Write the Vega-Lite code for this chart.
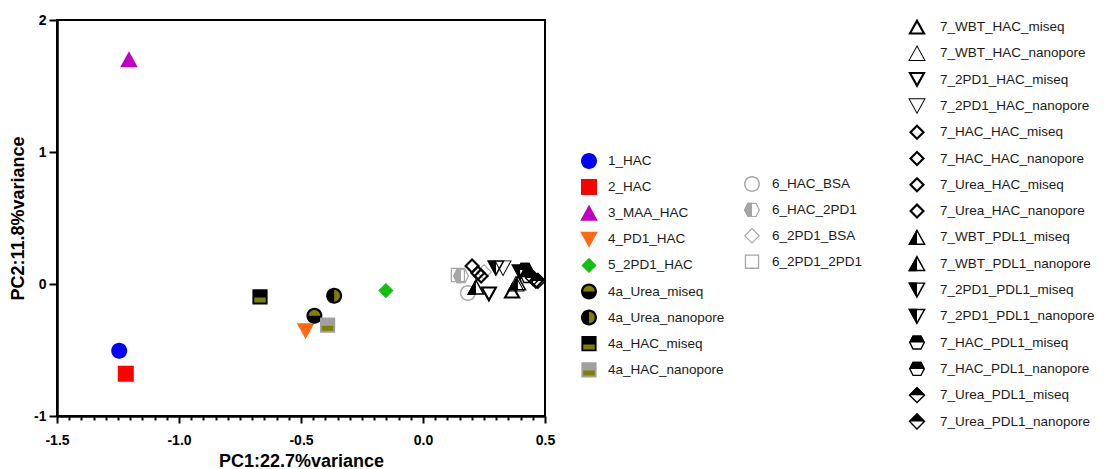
{
  "$schema": "https://vega.github.io/schema/vega-lite/v6.json",
  "autosize": {"type": "none"},
  "padding": {"left": 57, "top": 20, "right": 559, "bottom": 53},
  "width": 488,
  "height": 396,
  "background": "white",
  "data": {"values": [
    {"cat": "1_HAC", "grp": "G1", "x": -1.245, "y": -0.505},
    {"cat": "2_HAC", "grp": "G1", "x": -1.218, "y": -0.68},
    {"cat": "3_MAA_HAC", "grp": "G1", "x": -1.205, "y": 1.70},
    {"cat": "4_PD1_HAC", "grp": "G1", "x": -0.481, "y": -0.355},
    {"cat": "5_2PD1_HAC", "grp": "G1", "x": -0.152, "y": -0.05},
    {"cat": "4a_Urea_miseq", "grp": "G1", "x": -0.445, "y": -0.24},
    {"cat": "4a_Urea_nanopore", "grp": "G1", "x": -0.364, "y": -0.089},
    {"cat": "4a_HAC_miseq", "grp": "G1", "x": -0.668, "y": -0.097},
    {"cat": "4a_HAC_nanopore", "grp": "G1", "x": -0.391, "y": -0.311},
    {"cat": "6_HAC_BSA", "grp": "G2", "x": 0.184, "y": -0.068},
    {"cat": "6_HAC_2PD1", "grp": "G2", "x": 0.156, "y": 0.061},
    {"cat": "6_2PD1_BSA", "grp": "G2", "x": 0.25, "y": 0.091},
    {"cat": "6_2PD1_2PD1", "grp": "G2", "x": 0.143, "y": 0.068},
    {"cat": "7_WBT_HAC_miseq", "grp": "G3", "x": 0.365, "y": -0.053},
    {"cat": "7_WBT_HAC_nanopore", "grp": "G3", "x": 0.381, "y": 0.0},
    {"cat": "7_2PD1_HAC_miseq", "grp": "G3", "x": 0.27, "y": -0.076},
    {"cat": "7_2PD1_HAC_nanopore", "grp": "G3", "x": 0.328, "y": 0.121},
    {"cat": "7_HAC_HAC_miseq", "grp": "G3", "x": 0.201, "y": 0.136},
    {"cat": "7_HAC_HAC_nanopore", "grp": "G3", "x": 0.225, "y": 0.083},
    {"cat": "7_Urea_HAC_miseq", "grp": "G3", "x": 0.238, "y": 0.06},
    {"cat": "7_Urea_HAC_nanopore", "grp": "G3", "x": 0.463, "y": 0.02},
    {"cat": "7_WBT_PDL1_miseq", "grp": "G3", "x": 0.217, "y": -0.023},
    {"cat": "7_WBT_PDL1_nanopore", "grp": "G3", "x": 0.389, "y": 0.008},
    {"cat": "7_2PD1_PDL1_miseq", "grp": "G3", "x": 0.299, "y": 0.121},
    {"cat": "7_2PD1_PDL1_nanopore", "grp": "G3", "x": 0.398, "y": 0.091},
    {"cat": "7_HAC_PDL1_miseq", "grp": "G3", "x": 0.418, "y": 0.106},
    {"cat": "7_HAC_PDL1_nanopore", "grp": "G3", "x": 0.43, "y": 0.061},
    {"cat": "7_Urea_PDL1_miseq", "grp": "G3", "x": 0.451, "y": 0.045},
    {"cat": "7_Urea_PDL1_nanopore", "grp": "G3", "x": 0.471, "y": 0.023}
  ]},
  "layer": [
    {
      "transform": [{"filter": "datum.grp === 'G1'"}],
      "mark": {"type": "point", "filled": true, "opacity": 1, "strokeWidth": 0, "size": 256},
      "encoding": {
        "x": {"field": "x", "type": "quantitative", "scale": {"domain": [-1.5, 0.5], "nice": false, "zero": false},
          "axis": {"values": [-1.5, -1.45, -1.4, -1.35, -1.3, -1.25, -1.2, -1.15, -1.1, -1.05, -1, -0.95, -0.9, -0.85, -0.8, -0.75, -0.7, -0.65, -0.6, -0.55, -0.5, -0.45, -0.4, -0.35, -0.3, -0.25, -0.2, -0.15, -0.1, -0.05, 0, 0.05, 0.1, 0.15, 0.2, 0.25, 0.3, 0.35, 0.4, 0.45, 0.5], "labelExpr": "abs(datum.value*2 - round(datum.value*2)) < 0.001 ? replace(format(datum.value, '.1f'), '\u2212', '-') : ''", "title": "PC1:22.7%variance", "tickSize": {"condition": {"test": "abs(datum.value*2 - round(datum.value*2)) < 0.001", "value": 7}, "value": 4}, "labelPadding": 10, "titlePadding": 5}},
        "y": {"field": "y", "type": "quantitative", "scale": {"domain": [-1, 2], "nice": false, "zero": false},
          "axis": {"values": [-1, 0, 1, 2], "format": "d", "labelExpr": "replace(datum.label, '\u2212', '-')", "title": "PC2:11.8%variance", "tickSize": 8, "labelPadding": 3, "titlePadding": 6}},
        "shape": {"field": "cat", "type": "nominal",
          "scale": {"domain": ["1_HAC", "2_HAC", "3_MAA_HAC", "4_PD1_HAC", "5_2PD1_HAC", "4a_Urea_miseq", "4a_Urea_nanopore", "4a_HAC_miseq", "4a_HAC_nanopore"],
            "range": [
              "M-1,0A1,1,0,1,1,1,0A1,1,0,1,1,-1,0ZM-1.1,-1.1ZM1.1,1.1Z",
              "M-1,-1H1V1H-1ZM-1.1,-1.1ZM1.1,1.1Z",
              "M0,-1.05L1.1,0.95H-1.1ZM-1.1,-1.1ZM1.1,1.1Z",
              "M-1.1,-0.95H1.1L0,1.05ZM-1.1,-1.1ZM1.1,1.1Z",
              "M0,-0.95L0.95,0L0,0.95L-0.95,0ZM-1.1,-1.1ZM1.1,1.1Z",
              "M-1,0A1,1,0,1,1,1,0A1,1,0,1,1,-1,0ZM-1.1,-1.1ZM1.1,1.1Z",
              "M-1,0A1,1,0,1,1,1,0A1,1,0,1,1,-1,0ZM-1.1,-1.1ZM1.1,1.1Z",
              "M-0.95,-0.95H0.95V0.95H-0.95ZM-1.1,-1.1ZM1.1,1.1Z",
              "M-0.95,-0.95H0.95V0.95H-0.95ZM-1.1,-1.1ZM1.1,1.1Z"
            ]},
          "legend": {"title": null, "orient": "none", "legendX": 524, "legendY": 133, "direction": "vertical", "columns": 1, "labelOffset": 11, "rowPadding": 8.1}},
        "fill": {"field": "cat", "type": "nominal",
          "scale": {"domain": ["1_HAC", "2_HAC", "3_MAA_HAC", "4_PD1_HAC", "5_2PD1_HAC", "4a_Urea_miseq", "4a_Urea_nanopore", "4a_HAC_miseq", "4a_HAC_nanopore"],
            "range": ["#0000ff", "#ff0000", "#c000c0", "#ff6a13", "#12c012", "#000000", "#000000", "#000000", "#a0a0a0"]},
          "legend": {"title": null, "orient": "none", "legendX": 524, "legendY": 133, "direction": "vertical", "columns": 1, "labelOffset": 11, "rowPadding": 8.1}}
      }
    },
    {
      "transform": [{"filter": "datum.grp === 'G1'"}],
      "mark": {"type": "point", "filled": true, "opacity": 1, "strokeWidth": 0, "size": 256, "color": "#808000"},
      "encoding": {
        "x": {"field": "x", "type": "quantitative", "scale": {"domain": [-1.5, 0.5], "nice": false, "zero": false},
          "axis": {"values": [-1.5, -1.45, -1.4, -1.35, -1.3, -1.25, -1.2, -1.15, -1.1, -1.05, -1, -0.95, -0.9, -0.85, -0.8, -0.75, -0.7, -0.65, -0.6, -0.55, -0.5, -0.45, -0.4, -0.35, -0.3, -0.25, -0.2, -0.15, -0.1, -0.05, 0, 0.05, 0.1, 0.15, 0.2, 0.25, 0.3, 0.35, 0.4, 0.45, 0.5], "labelExpr": "abs(datum.value*2 - round(datum.value*2)) < 0.001 ? replace(format(datum.value, '.1f'), '\u2212', '-') : ''", "title": "PC1:22.7%variance", "tickSize": {"condition": {"test": "abs(datum.value*2 - round(datum.value*2)) < 0.001", "value": 7}, "value": 4}, "labelPadding": 10, "titlePadding": 5}},
        "y": {"field": "y", "type": "quantitative", "scale": {"domain": [-1, 2], "nice": false, "zero": false},
          "axis": {"values": [-1, 0, 1, 2], "format": "d", "labelExpr": "replace(datum.label, '\u2212', '-')", "title": "PC2:11.8%variance", "tickSize": 8, "labelPadding": 3, "titlePadding": 6}},
        "shape": {"field": "cat", "type": "nominal",
          "scale": {"domain": ["1_HAC", "2_HAC", "3_MAA_HAC", "4_PD1_HAC", "5_2PD1_HAC", "4a_Urea_miseq", "4a_Urea_nanopore", "4a_HAC_miseq", "4a_HAC_nanopore"],
            "range": ["M0,0ZM-1.1,-1.1ZM1.1,1.1Z", "M0,0ZM-1.1,-1.1ZM1.1,1.1Z", "M0,0ZM-1.1,-1.1ZM1.1,1.1Z", "M0,0ZM-1.1,-1.1ZM1.1,1.1Z", "M0,0ZM-1.1,-1.1ZM1.1,1.1Z",
              "M-0.72,0A0.72,0.72,0,0,1,0.72,0ZM-1.1,-1.1ZM1.1,1.1Z",
              "M0,-0.72A0.72,0.72,0,0,1,0,0.72ZM-1.1,-1.1ZM1.1,1.1Z",
              "M-0.72,0.1H0.72V0.72H-0.72ZM-1.1,-1.1ZM1.1,1.1Z",
              "M-0.72,0.1H0.72V0.72H-0.72ZM-1.1,-1.1ZM1.1,1.1Z"]},
          "legend": {"title": null, "orient": "none", "legendX": 524, "legendY": 133, "direction": "vertical", "columns": 1, "labelOffset": 11, "rowPadding": 8.1, "labelExpr": "''"}}
      }
    },
    {
      "transform": [{"filter": "datum.grp === 'G2'"}],
      "mark": {"type": "point", "filled": true, "opacity": 1, "strokeWidth": 0, "size": 256},
      "encoding": {
        "x": {"field": "x", "type": "quantitative", "scale": {"domain": [-1.5, 0.5], "nice": false, "zero": false},
          "axis": {"values": [-1.5, -1.45, -1.4, -1.35, -1.3, -1.25, -1.2, -1.15, -1.1, -1.05, -1, -0.95, -0.9, -0.85, -0.8, -0.75, -0.7, -0.65, -0.6, -0.55, -0.5, -0.45, -0.4, -0.35, -0.3, -0.25, -0.2, -0.15, -0.1, -0.05, 0, 0.05, 0.1, 0.15, 0.2, 0.25, 0.3, 0.35, 0.4, 0.45, 0.5], "labelExpr": "abs(datum.value*2 - round(datum.value*2)) < 0.001 ? replace(format(datum.value, '.1f'), '\u2212', '-') : ''", "title": "PC1:22.7%variance", "tickSize": {"condition": {"test": "abs(datum.value*2 - round(datum.value*2)) < 0.001", "value": 7}, "value": 4}, "labelPadding": 10, "titlePadding": 5}},
        "y": {"field": "y", "type": "quantitative", "scale": {"domain": [-1, 2], "nice": false, "zero": false},
          "axis": {"values": [-1, 0, 1, 2], "format": "d", "labelExpr": "replace(datum.label, '\u2212', '-')", "title": "PC2:11.8%variance", "tickSize": 8, "labelPadding": 3, "titlePadding": 6}},
        "shape": {"field": "cat", "type": "nominal",
          "scale": {"domain": ["6_HAC_BSA", "6_HAC_2PD1", "6_2PD1_BSA", "6_2PD1_2PD1"],
            "range": [
              "M-1,0A1,1,0,1,1,1,0A1,1,0,1,1,-1,0ZM-0.82,0A0.82,0.82,0,1,0,0.82,0A0.82,0.82,0,1,0,-0.82,0ZM-1.1,-1.1ZM1.1,1.1Z",
              "M-1,0L-0.55,-0.9H0.55L1,0L0.55,0.9H-0.55ZM-0.83,0L-0.46,0.75H0.46L0.83,0L0.46,-0.75H-0.46ZM-1.1,-1.1ZM1.1,1.1Z",
              "M0,-1L1,0L0,1L-1,0ZM0,-0.8L-0.8,0L0,0.8L0.8,0ZM-1.1,-1.1ZM1.1,1.1Z",
              "M-0.9,-0.9H0.9V0.9H-0.9ZM-0.74,-0.74V0.74H0.74V-0.74ZM-1.1,-1.1ZM1.1,1.1Z"
            ]},
          "legend": {"title": null, "orient": "none", "legendX": 687, "legendY": 156, "direction": "vertical", "columns": 1, "labelOffset": 12, "rowPadding": 7.9}},
        "fill": {"field": "cat", "type": "nominal",
          "scale": {"domain": ["6_HAC_BSA", "6_HAC_2PD1", "6_2PD1_BSA", "6_2PD1_2PD1"], "range": ["#a6a6a6", "#a6a6a6", "#a6a6a6", "#a6a6a6"]},
          "legend": {"title": null, "orient": "none", "legendX": 687, "legendY": 156, "direction": "vertical", "columns": 1, "labelOffset": 12, "rowPadding": 7.9}}
      }
    },
    {
      "transform": [{"filter": "datum.grp === 'G2'"}],
      "mark": {"type": "point", "filled": true, "opacity": 1, "strokeWidth": 0, "size": 256, "color": "#a6a6a6"},
      "encoding": {
        "x": {"field": "x", "type": "quantitative", "scale": {"domain": [-1.5, 0.5], "nice": false, "zero": false},
          "axis": {"values": [-1.5, -1.45, -1.4, -1.35, -1.3, -1.25, -1.2, -1.15, -1.1, -1.05, -1, -0.95, -0.9, -0.85, -0.8, -0.75, -0.7, -0.65, -0.6, -0.55, -0.5, -0.45, -0.4, -0.35, -0.3, -0.25, -0.2, -0.15, -0.1, -0.05, 0, 0.05, 0.1, 0.15, 0.2, 0.25, 0.3, 0.35, 0.4, 0.45, 0.5], "labelExpr": "abs(datum.value*2 - round(datum.value*2)) < 0.001 ? replace(format(datum.value, '.1f'), '\u2212', '-') : ''", "title": "PC1:22.7%variance", "tickSize": {"condition": {"test": "abs(datum.value*2 - round(datum.value*2)) < 0.001", "value": 7}, "value": 4}, "labelPadding": 10, "titlePadding": 5}},
        "y": {"field": "y", "type": "quantitative", "scale": {"domain": [-1, 2], "nice": false, "zero": false},
          "axis": {"values": [-1, 0, 1, 2], "format": "d", "labelExpr": "replace(datum.label, '\u2212', '-')", "title": "PC2:11.8%variance", "tickSize": 8, "labelPadding": 3, "titlePadding": 6}},
        "shape": {"field": "cat", "type": "nominal",
          "scale": {"domain": ["6_HAC_BSA", "6_HAC_2PD1", "6_2PD1_BSA", "6_2PD1_2PD1"],
            "range": ["M0,0ZM-1.1,-1.1ZM1.1,1.1Z", "M0,-0.9H-0.55L-1,0L-0.55,0.9H0ZM-1.1,-1.1ZM1.1,1.1Z", "M0,0ZM-1.1,-1.1ZM1.1,1.1Z", "M0,0ZM-1.1,-1.1ZM1.1,1.1Z"]},
          "legend": {"title": null, "orient": "none", "legendX": 687, "legendY": 156, "direction": "vertical", "columns": 1, "labelOffset": 12, "rowPadding": 7.9, "labelExpr": "''"}}
      }
    },
    {
      "transform": [{"filter": "datum.grp === 'G3'"}],
      "mark": {"type": "point", "filled": true, "opacity": 1, "strokeWidth": 0, "size": 256},
      "encoding": {
        "x": {"field": "x", "type": "quantitative", "scale": {"domain": [-1.5, 0.5], "nice": false, "zero": false},
          "axis": {"values": [-1.5, -1.45, -1.4, -1.35, -1.3, -1.25, -1.2, -1.15, -1.1, -1.05, -1, -0.95, -0.9, -0.85, -0.8, -0.75, -0.7, -0.65, -0.6, -0.55, -0.5, -0.45, -0.4, -0.35, -0.3, -0.25, -0.2, -0.15, -0.1, -0.05, 0, 0.05, 0.1, 0.15, 0.2, 0.25, 0.3, 0.35, 0.4, 0.45, 0.5], "labelExpr": "abs(datum.value*2 - round(datum.value*2)) < 0.001 ? replace(format(datum.value, '.1f'), '\u2212', '-') : ''", "title": "PC1:22.7%variance", "tickSize": {"condition": {"test": "abs(datum.value*2 - round(datum.value*2)) < 0.001", "value": 7}, "value": 4}, "labelPadding": 10, "titlePadding": 5}},
        "y": {"field": "y", "type": "quantitative", "scale": {"domain": [-1, 2], "nice": false, "zero": false},
          "axis": {"values": [-1, 0, 1, 2], "format": "d", "labelExpr": "replace(datum.label, '\u2212', '-')", "title": "PC2:11.8%variance", "tickSize": 8, "labelPadding": 3, "titlePadding": 6}},
        "shape": {"field": "cat", "type": "nominal",
          "scale": {"domain": ["7_WBT_HAC_miseq", "7_WBT_HAC_nanopore", "7_2PD1_HAC_miseq", "7_2PD1_HAC_nanopore", "7_HAC_HAC_miseq", "7_HAC_HAC_nanopore", "7_Urea_HAC_miseq", "7_Urea_HAC_nanopore", "7_WBT_PDL1_miseq", "7_WBT_PDL1_nanopore", "7_2PD1_PDL1_miseq", "7_2PD1_PDL1_nanopore", "7_HAC_PDL1_miseq", "7_HAC_PDL1_nanopore", "7_Urea_PDL1_miseq", "7_Urea_PDL1_nanopore"],
            "range": [
              "M0,-1.05L1.1,0.95H-1.1ZM0,-0.5L-0.66,0.7H0.66ZM-1.1,-1.1ZM1.1,1.1Z",
              "M0,-1.05L1.1,0.95H-1.1ZM0,-0.8L-0.9,0.84H0.9ZM-1.1,-1.1ZM1.1,1.1Z",
              "M-1.1,-0.95H1.1L0,1.05ZM-0.66,-0.7L0,0.5L0.66,-0.7ZM-1.1,-1.1ZM1.1,1.1Z",
              "M-1.1,-0.95H1.1L0,1.05ZM-0.9,-0.84L0,0.8L0.9,-0.84ZM-1.1,-1.1ZM1.1,1.1Z",
              "M0,-1L1,0L0,1L-1,0ZM0,-0.62L-0.62,0L0,0.62L0.62,0ZM-1.1,-1.1ZM1.1,1.1Z",
              "M0,-1L1,0L0,1L-1,0ZM0,-0.62L-0.62,0L0,0.62L0.62,0ZM-1.1,-1.1ZM1.1,1.1Z",
              "M0,-1L1,0L0,1L-1,0ZM0,-0.62L-0.62,0L0,0.62L0.62,0ZM-1.1,-1.1ZM1.1,1.1Z",
              "M0,-1L1,0L0,1L-1,0ZM0,-0.62L-0.62,0L0,0.62L0.62,0ZM-1.1,-1.1ZM1.1,1.1Z",
              "M0,-1.05L1.1,0.95H-1.1ZM0,-0.66L-0.79,0.77H0.79ZM-1.1,-1.1ZM1.1,1.1Z",
              "M0,-1.05L1.1,0.95H-1.1ZM0,-0.66L-0.79,0.77H0.79ZM-1.1,-1.1ZM1.1,1.1Z",
              "M-1.1,-0.95H1.1L0,1.05ZM-0.79,-0.77L0,0.66L0.79,-0.77ZM-1.1,-1.1ZM1.1,1.1Z",
              "M-1.1,-0.95H1.1L0,1.05ZM-0.79,-0.77L0,0.66L0.79,-0.77ZM-1.1,-1.1ZM1.1,1.1Z",
              "M-1,0L-0.55,-0.9H0.55L1,0L0.55,0.9H-0.55ZM-0.8,0L-0.45,0.72H0.45L0.8,0L0.45,-0.72H-0.45ZM-1.1,-1.1ZM1.1,1.1Z",
              "M-1,0L-0.55,-0.9H0.55L1,0L0.55,0.9H-0.55ZM-0.8,0L-0.45,0.72H0.45L0.8,0L0.45,-0.72H-0.45ZM-1.1,-1.1ZM1.1,1.1Z",
              "M0,-1.05L1.05,0L0,1.05L-1.05,0ZM0,-0.8L-0.8,0L0,0.8L0.8,0ZM-1.1,-1.1ZM1.1,1.1Z",
              "M0,-1.05L1.05,0L0,1.05L-1.05,0ZM0,-0.8L-0.8,0L0,0.8L0.8,0ZM-1.1,-1.1ZM1.1,1.1Z"
            ]},
          "legend": {"title": null, "orient": "none", "legendX": 852, "legendY": -1, "direction": "vertical", "columns": 1, "labelOffset": 15, "rowPadding": 8.3}},
        "fill": {"field": "cat", "type": "nominal",
          "scale": {"domain": ["7_WBT_HAC_miseq", "7_WBT_HAC_nanopore", "7_2PD1_HAC_miseq", "7_2PD1_HAC_nanopore", "7_HAC_HAC_miseq", "7_HAC_HAC_nanopore", "7_Urea_HAC_miseq", "7_Urea_HAC_nanopore", "7_WBT_PDL1_miseq", "7_WBT_PDL1_nanopore", "7_2PD1_PDL1_miseq", "7_2PD1_PDL1_nanopore", "7_HAC_PDL1_miseq", "7_HAC_PDL1_nanopore", "7_Urea_PDL1_miseq", "7_Urea_PDL1_nanopore"],
            "range": ["#000000", "#000000", "#000000", "#000000", "#000000", "#000000", "#000000", "#000000", "#000000", "#000000", "#000000", "#000000", "#000000", "#000000", "#000000", "#000000"]},
          "legend": {"title": null, "orient": "none", "legendX": 852, "legendY": -1, "direction": "vertical", "columns": 1, "labelOffset": 15, "rowPadding": 8.3}}
      }
    },
    {
      "transform": [{"filter": "datum.grp === 'G3'"}],
      "mark": {"type": "point", "filled": true, "opacity": 1, "strokeWidth": 0, "size": 256, "color": "#000000"},
      "encoding": {
        "x": {"field": "x", "type": "quantitative", "scale": {"domain": [-1.5, 0.5], "nice": false, "zero": false},
          "axis": {"values": [-1.5, -1.45, -1.4, -1.35, -1.3, -1.25, -1.2, -1.15, -1.1, -1.05, -1, -0.95, -0.9, -0.85, -0.8, -0.75, -0.7, -0.65, -0.6, -0.55, -0.5, -0.45, -0.4, -0.35, -0.3, -0.25, -0.2, -0.15, -0.1, -0.05, 0, 0.05, 0.1, 0.15, 0.2, 0.25, 0.3, 0.35, 0.4, 0.45, 0.5], "labelExpr": "abs(datum.value*2 - round(datum.value*2)) < 0.001 ? replace(format(datum.value, '.1f'), '\u2212', '-') : ''", "title": "PC1:22.7%variance", "tickSize": {"condition": {"test": "abs(datum.value*2 - round(datum.value*2)) < 0.001", "value": 7}, "value": 4}, "labelPadding": 10, "titlePadding": 5}},
        "y": {"field": "y", "type": "quantitative", "scale": {"domain": [-1, 2], "nice": false, "zero": false},
          "axis": {"values": [-1, 0, 1, 2], "format": "d", "labelExpr": "replace(datum.label, '\u2212', '-')", "title": "PC2:11.8%variance", "tickSize": 8, "labelPadding": 3, "titlePadding": 6}},
        "shape": {"field": "cat", "type": "nominal",
          "scale": {"domain": ["7_WBT_HAC_miseq", "7_WBT_HAC_nanopore", "7_2PD1_HAC_miseq", "7_2PD1_HAC_nanopore", "7_HAC_HAC_miseq", "7_HAC_HAC_nanopore", "7_Urea_HAC_miseq", "7_Urea_HAC_nanopore", "7_WBT_PDL1_miseq", "7_WBT_PDL1_nanopore", "7_2PD1_PDL1_miseq", "7_2PD1_PDL1_nanopore", "7_HAC_PDL1_miseq", "7_HAC_PDL1_nanopore", "7_Urea_PDL1_miseq", "7_Urea_PDL1_nanopore"],
            "range": ["M0,0ZM-1.1,-1.1ZM1.1,1.1Z", "M0,0ZM-1.1,-1.1ZM1.1,1.1Z", "M0,0ZM-1.1,-1.1ZM1.1,1.1Z", "M0,0ZM-1.1,-1.1ZM1.1,1.1Z", "M0,0ZM-1.1,-1.1ZM1.1,1.1Z", "M0,0ZM-1.1,-1.1ZM1.1,1.1Z", "M0,0ZM-1.1,-1.1ZM1.1,1.1Z", "M0,0ZM-1.1,-1.1ZM1.1,1.1Z",
              "M0,-1.05L0,0.95H-1.1ZM-1.1,-1.1ZM1.1,1.1Z", "M0,-1.05L0,0.95H-1.1ZM-1.1,-1.1ZM1.1,1.1Z",
              "M-1.1,-0.95H0V1.05ZM-1.1,-1.1ZM1.1,1.1Z", "M-1.1,-0.95H0V1.05ZM-1.1,-1.1ZM1.1,1.1Z",
              "M-1,0L-0.55,-0.9H0.55L1,0ZM-1.1,-1.1ZM1.1,1.1Z", "M-1,0L-0.55,-0.9H0.55L1,0ZM-1.1,-1.1ZM1.1,1.1Z",
              "M-1.05,0L0,-1.05L1.05,0ZM-1.1,-1.1ZM1.1,1.1Z", "M-1.05,0L0,-1.05L1.05,0ZM-1.1,-1.1ZM1.1,1.1Z"]},
          "legend": {"title": null, "orient": "none", "legendX": 852, "legendY": -1, "direction": "vertical", "columns": 1, "labelOffset": 15, "rowPadding": 8.3, "labelExpr": "''"}}
      }
    }
  ],
  "resolve": {
    "scale": {"shape": "independent", "fill": "independent"},
    "legend": {"shape": "independent", "fill": "independent"}
  },
  "config": {
    "view": {"stroke": "black", "strokeWidth": 2},
    "axis": {
      "grid": false,
      "domainColor": "black",
      "domainWidth": 2.5,
      "tickColor": "black",
      "tickWidth": 2,
      "labelFont": "Liberation Sans",
      "labelFontWeight": "bold",
      "labelFontSize": 14,
      "labelColor": "black",
      "labelFlush": false,
      "labelOverlap": false,
      "titleFont": "Liberation Sans",
      "titleFontWeight": "bold",
      "titleFontSize": 18,
      "titleColor": "black"
    },
    "legend": {
      "padding": 0,
      "offset": 0,
      "symbolSize": 256,
      "symbolStrokeWidth": 0,
      "labelFont": "Liberation Sans",
      "labelFontSize": 13.5,
      "labelColor": "#1a1a1a",
      "labelLimit": 400
    }
  }
}
